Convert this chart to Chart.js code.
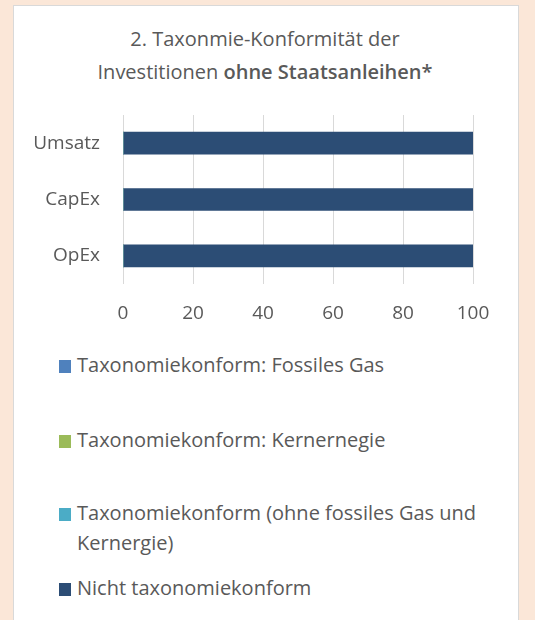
<!DOCTYPE html>
<html>
<head>
<meta charset="utf-8">
<script src="https://cdn.jsdelivr.net/npm/chart.js@4/dist/chart.umd.min.js"></script>
<style>
  html, body { margin: 0; padding: 0; }
  body { width: 535px; height: 620px; background: #fbe7d8; position: relative; overflow: hidden;
         font-family: "Open Sans", sans-serif; color: #595959; }
  #card { position: absolute; left: 13px; top: 5px; width: 504px; height: 620px;
          background: #fff; border: 1px solid #d9d9d9; }
  #title { position: absolute; left: 0; top: 22px; width: 530px; text-align: center;
           font-size: 20px; line-height: 33px; color: #595959; }
  #title b { font-weight: 600; }
  #chartBox { position: absolute; left: 0; top: 0; width: 535px; height: 340px; }
  .leg { position: absolute; left: 59px; width: 440px; font-size: 20px; line-height: 30px; color: #595959; }
  .leg .sw { position: absolute; left: 0; top: 10px; width: 12px; height: 13px; }
  .leg .tx { margin-left: 18px; width: 415px; }
</style>
</head>
<body>
<div id="card"></div>
<div id="title">2. Taxonmie-Konformität der<br>Investitionen <b>ohne Staatsanleihen*</b></div>
<div id="chartBox"><canvas id="chart" width="535" height="340"></canvas></div>
<div id="legend"></div>
<script>
// Daten
const categories = ["Umsatz", "CapEx", "OpEx"];
const fossilesGas = [0, 0, 0];
const kernenergie = [0, 0, 0];
const taxonomiekonformOhne = [0, 0, 0];
const nichtKonform = [100, 100, 100];

const seriesLabels = [
    "Taxonomiekonform: Fossiles Gas",
    "Taxonomiekonform: Kernernegie",
    "Taxonomiekonform (ohne fossiles Gas und Kernergie)",
    "Nicht taxonomiekonform"
];
const seriesColors = ["#4f81bd", "#9bbb59", "#4bacc6", "#2c4d75"];
const seriesData = [fossilesGas, kernenergie, taxonomiekonformOhne, nichtKonform];

const fontFamily = "'Open Sans', sans-serif";

const chart = new Chart(document.getElementById("chart").getContext("2d"), {
    type: "bar",
    data: {
        labels: categories,
        datasets: seriesLabels.map((label, i) => ({
            label: label,
            data: seriesData[i],
            backgroundColor: seriesColors[i],
            borderWidth: 0,
            barThickness: 22
        }))
    },
    options: {
        indexAxis: "y",
        responsive: false,
        animation: false,
        layout: { padding: { top: 115, left: 14, right: 62, bottom: 0 } },
        plugins: {
            legend: { display: false },
            title: { display: false },
            tooltip: { enabled: false }
        },
        scales: {
            x: {
                stacked: true,
                min: 0,
                max: 100,
                ticks: { stepSize: 20, padding: 18, color: "#595959", font: { family: fontFamily, size: 19 } },
                grid: { color: "#d9d9d9", drawTicks: false },
                border: { display: false },
                afterFit: s => { s.height = 56; }
            },
            y: {
                stacked: true,
                ticks: { padding: 23, color: "#595959", font: { family: fontFamily, size: 19 } },
                grid: { display: false, drawTicks: false },
                border: { display: false },
                afterFit: s => { s.width = 109; }
            }
        }
    }
});

// Legende (HTML, damit der Text umbrechen kann)
const legendTops = [350, 425, 498, 573];
const legendEl = document.getElementById("legend");
chart.data.datasets.forEach((ds, i) => {
    const item = document.createElement("div");
    item.className = "leg";
    item.style.top = legendTops[i] + "px";
    item.innerHTML = '<span class="sw" style="background:' + ds.backgroundColor + '"></span><div class="tx"></div>';
    item.querySelector(".tx").textContent = ds.label;
    legendEl.appendChild(item);
});
</script>
</body>
</html>
